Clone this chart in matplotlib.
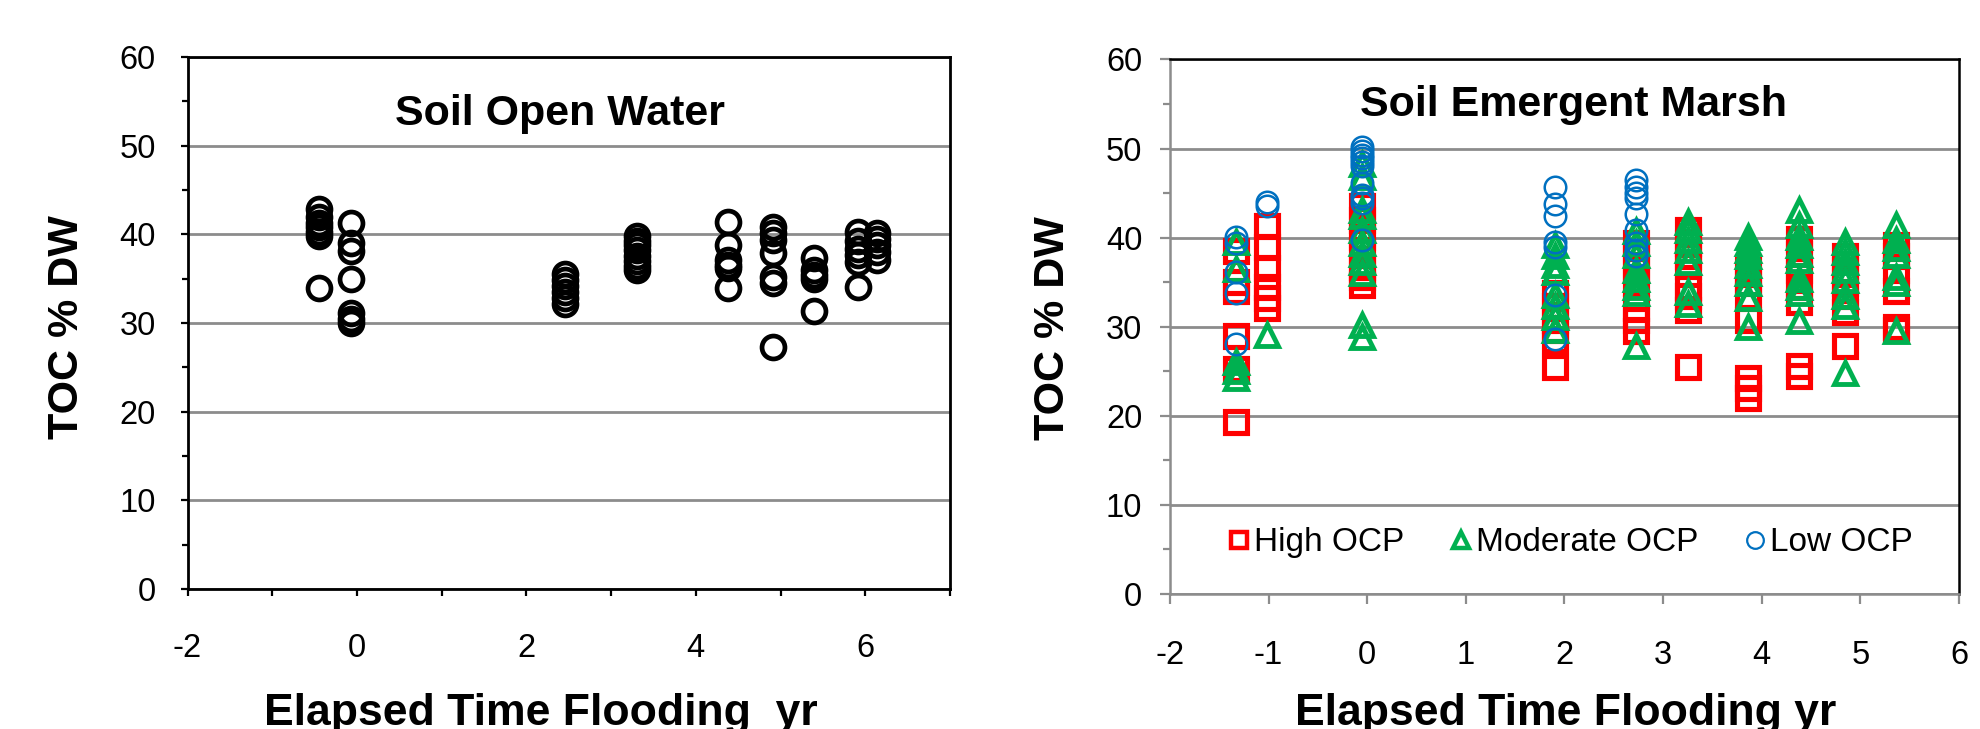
import numpy as np
import matplotlib

matplotlib.use("Agg")
import matplotlib.pyplot as plt
from matplotlib.lines import Line2D
from matplotlib.ticker import MultipleLocator

plt.rcParams["font.family"] = ["Liberation Sans", "DejaVu Sans"]

# ---- data: Soil Open Water (x = group position, y = TOC values) ----
open_x = [-0.45, -0.07, 2.45, 3.31, 4.38, 4.91, 5.39, 5.91, 6.14]
open_y = [
    [42.9, 42.0, 41.3, 40.8, 40.3, 39.8, 33.9],
    [41.3, 39.0, 38.1, 35.0, 31.1, 30.5, 30.0],
    [35.5, 34.8, 34.2, 33.5, 32.8, 32.2],
    [39.8, 39.3, 38.8, 38.2, 37.6, 37.0, 36.4, 36.0],
    [41.4, 38.8, 37.1, 36.5, 36.2, 33.9],
    [40.8, 40.1, 39.4, 37.9, 35.2, 34.5, 27.3],
    [37.3, 36.0, 35.4, 35.0, 31.3],
    [40.3, 39.2, 38.4, 37.7, 36.9, 34.1],
    [40.1, 39.5, 38.8, 38.0, 37.1],
]

# ---- data: Soil Emergent Marsh ----
marsh_x = [-1.33, -1.02, -0.05, 1.90, 2.73, 3.25, 3.86, 4.38, 4.84, 5.36]
high_y = [
    [38.5, 35.0, 34.0, 29.0, 25.2, 19.3],
    [41.3, 38.9, 36.6, 34.5, 33.2, 32.1],
    [43.5, 42.0, 40.1, 38.6, 36.7, 35.6, 34.7],
    [33.8, 32.3, 30.8, 29.6, 28.5, 25.5],
    [39.4, 37.9, 36.4, 34.9, 32.1, 30.8, 29.5],
    [40.9, 39.4, 37.9, 36.8, 34.5, 33.4, 31.9, 25.5],
    [36.4, 34.9, 33.4, 30.8, 24.2, 23.1, 22.0],
    [39.8, 38.2, 36.4, 34.5, 32.8, 25.6, 24.5],
    [37.9, 36.4, 34.9, 33.4, 31.7, 27.8],
    [39.2, 37.9, 36.4, 34.0, 30.0, 29.6],
]
moderate_y = [
    [39.5, 36.5, 26.0, 25.0, 24.2],
    [29.1],
    [48.3, 46.8, 43.1, 42.4, 40.9, 39.4, 38.2, 37.3, 36.0, 30.2, 28.9],
    [39.2, 37.9, 36.9, 36.2, 33.6, 32.3, 31.1, 29.6],
    [40.7, 39.4, 38.0, 36.4, 35.4, 34.5, 33.8, 27.8],
    [41.8, 40.9, 39.7, 38.6, 37.3, 33.9, 32.6],
    [40.1, 39.4, 38.6, 37.9, 36.9, 36.0, 34.9, 33.2, 30.0],
    [43.1, 41.4, 40.1, 39.2, 38.2, 37.5, 35.4, 34.5, 33.8, 30.6],
    [39.5, 38.4, 37.3, 36.4, 35.2, 33.4, 32.3, 24.8],
    [41.4, 39.7, 38.8, 38.1, 35.6, 34.9, 29.5],
]
low_y = [
    [40.1, 39.4, 36.2, 33.8, 28.1],
    [44.0, 43.6],
    [50.2, 49.7, 49.3, 48.9, 48.5, 48.0, 46.1, 44.8, 44.4, 43.9, 39.7],
    [45.7, 43.8, 42.4, 39.5, 39.0, 33.6, 28.6],
    [46.5, 45.7, 45.0, 44.4, 42.7, 40.9, 39.4, 38.6, 37.9],
    [], [], [], [], [],
]

series_labels = ["High OCP", "Moderate OCP", "Low OCP"]
x_ticks_open = [-2, 0, 2, 4, 6]
x_ticks_marsh = [-2, -1, 0, 1, 2, 3, 4, 5, 6]

RED, GREEN, BLUE = "#FF0000", "#00B050", "#0070C0"
GRID = "#8C8C8C"


def flatten(xs, groups):
    px, py = [], []
    for x, ys in zip(xs, groups):
        px += [x] * len(ys)
        py += ys
    return np.array(px), np.array(py)


fig = plt.figure(figsize=(19.8, 7.29), dpi=100)
ax1 = fig.add_axes([0.0947, 0.1920, 0.3851, 0.7298])
ax2 = fig.add_axes([0.5909, 0.1852, 0.3985, 0.7332])

for ax in (ax1, ax2):
    ax.set_ylim(0, 60)
    ax.yaxis.set_major_locator(MultipleLocator(10))
    ax.yaxis.set_minor_locator(MultipleLocator(5))
    ax.grid(axis="y", which="major", color=GRID, lw=2.0, zorder=0)
    ax.set_axisbelow(True)

# ---- left panel ----
ax1.set_xlim(-2, 7)
ax1.set_xticks(range(-2, 8))
ax1.set_xticklabels([str(v) if v in x_ticks_open else "" for v in range(-2, 8)])
px, py = flatten(open_x, open_y)
ax1.plot(px, py, "o", ls="none", mfc="none", mec="black", ms=16.5, mew=3.4,
         zorder=3)
for sp in ax1.spines.values():
    sp.set_color("black")
    sp.set_linewidth(2)
ax1.tick_params(axis="both", which="both", direction="out", color="black",
                width=1.6, labelsize=23.5)
ax1.tick_params(axis="x", length=5, pad=27)
ax1.tick_params(axis="y", which="major", length=5, pad=18)
ax1.tick_params(axis="y", which="minor", length=4)
ax1.text(0.4885, 0.873, "Soil Open Water", transform=ax1.transAxes,
         ha="center", va="baseline", fontsize=31, fontweight="bold")

# ---- right panel ----
ax2.set_xlim(-2, 6)
ax2.set_xticks(x_ticks_marsh)
ax2.set_xticklabels([str(v) for v in x_ticks_marsh])
hx, hy = flatten(marsh_x, high_y)
mx, my = flatten(marsh_x, moderate_y)
lx, ly = flatten(marsh_x, low_y)
ax2.plot(hx, hy, "s", ls="none", mfc="none", mec=RED, ms=16.5, mew=3.7,
         zorder=3)
ax2.plot(mx, my, "^", ls="none", mfc="none", mec=GREEN, ms=16.5, mew=3.5,
         zorder=4)
ax2.plot(lx, ly, "o", ls="none", mfc="none", mec=BLUE, ms=15.5, mew=1.8,
         zorder=5)
ax2.spines["left"].set_color(GRID)
ax2.spines["bottom"].set_color(GRID)
ax2.spines["top"].set_color("black")
ax2.spines["right"].set_color("black")
for sp in ax2.spines.values():
    sp.set_linewidth(1.8)
ax2.tick_params(axis="both", which="both", direction="out", color=GRID,
                width=1.6, labelsize=23.5)
ax2.tick_params(axis="x", length=7, pad=26)
ax2.tick_params(axis="y", which="major", length=7, pad=13)
ax2.tick_params(axis="y", which="minor", length=5)
ax2.text(0.511, 0.894, "Soil Emergent Marsh", transform=ax2.transAxes,
         ha="center", va="baseline", fontsize=31, fontweight="bold")

handles = [
    Line2D([], [], marker="s", ls="none", mfc="none", mec=RED, ms=12, mew=3.2),
    Line2D([], [], marker="^", ls="none", mfc="none", mec=GREEN, ms=12, mew=3.2),
    Line2D([], [], marker="o", ls="none", mfc="none", mec=BLUE, ms=12, mew=1.6),
]
ax2.legend(handles, series_labels, loc="center", bbox_to_anchor=(0.508, 0.0954),
           ncol=3, frameon=False, fontsize=24, handlelength=0.6,
           handletextpad=0.15, columnspacing=1.4, borderpad=0)

# axis labels
fig.text(67.5 / 1980, 1 - 327 / 729, "TOC % DW", rotation=90, ha="center",
         va="center", fontsize=31, fontweight="bold")
fig.text(1053 / 1980, 1 - 328 / 729, "TOC % DW", rotation=90, ha="center",
         va="center", fontsize=31, fontweight="bold")
fig.text(541 / 1980, 0.006, "Elapsed Time Flooding  yr", ha="center",
         va="baseline", fontsize=32, fontweight="bold")
fig.text(1566 / 1980, 0.006, "Elapsed Time Flooding yr", ha="center",
         va="baseline", fontsize=32, fontweight="bold")

fig.savefig("out.png", dpi=100)
